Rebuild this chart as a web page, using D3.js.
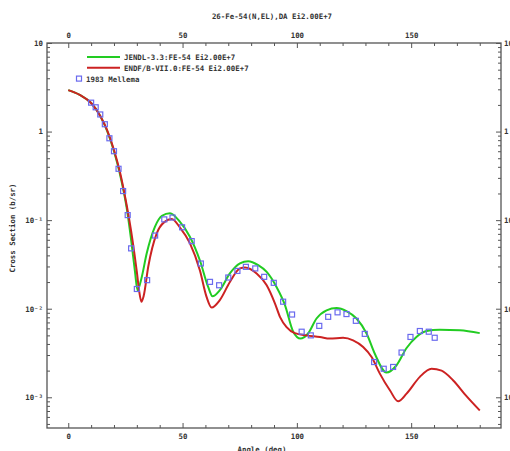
<!DOCTYPE html>
<html>
<head>
<meta charset="utf-8">
<script src="https://cdn.jsdelivr.net/npm/d3@7"></script>
<style>
  body { margin: 0; background: #fff; }
  text { font-family: "DejaVu Sans Mono", monospace; font-size: 7.4px; font-weight: bold; fill: #333; }
</style>
</head>
<body>
<div id="chart"></div>
<script>
// JENDL-3.3 curve (angle deg, b/sr)
const jendl = [[0,2.94],[5,2.6],[10,2.1],[14,1.5],[17,1.02],[20,0.6],[22.5,0.34],[25.5,0.14],[27.5,0.06],
  [29.2,0.026],[30.3,0.0162],[32,0.022],[34.3,0.042],[37.9,0.084],[41,0.112],[44.5,0.12],[48.8,0.096],
  [53.2,0.065],[57.6,0.035],[61.2,0.0176],[63.1,0.0138],[66.3,0.0162],[70.7,0.025],[75.1,0.0324],
  [78.7,0.0344],[83.1,0.031],[86.8,0.026],[91.1,0.0176],[94.8,0.011],[98.4,0.0055],[101.6,0.0046],
  [104.9,0.00525],[108.6,0.00775],[113,0.0096],[117.4,0.0102],[121.7,0.0094],[126.1,0.00775],
  [130.5,0.00525],[134.1,0.0031],[139.2,0.0019],[143.6,0.0023],[148,0.0036],[152.3,0.0048],
  [156.7,0.0056],[162.5,0.0058],[171.3,0.0057],[180,0.0053]];

// ENDF/B-VII.0 curve
const endf = [[0,2.94],[5,2.6],[10,2.1],[14,1.5],[17,1.04],[20,0.62],[22.6,0.35],[25.5,0.15],[28,0.062],
  [30,0.026],[31,0.016],[32,0.012],[33,0.014],[35,0.03],[38.7,0.071],[42,0.095],[45.3,0.103],[48.8,0.083],
  [53.2,0.055],[57.6,0.027],[60.5,0.0136],[62.7,0.0103],[66.3,0.0125],[70.7,0.02],[75.1,0.0285],
  [77.3,0.0292],[82.4,0.025],[86.8,0.0184],[90.4,0.0115],[92.6,0.0081],[95.5,0.0062],[99.1,0.0053],
  [104.2,0.005],[110.1,0.0048],[114.4,0.0046],[120.2,0.0047],[124.6,0.0044],[129,0.0037],[132.7,0.00285],
  [136.3,0.00185],[140.7,0.0012],[144.3,0.0009],[148,0.0011],[153.8,0.0017],[158.9,0.0021],[163.3,0.002],
  [168.3,0.00156],[174.2,0.00103],[180,0.00071]];

// 1983 Mellema measurements
const mellema = [[10,2.12],[12,1.88],[14,1.56],[16,1.21],[18,0.84],[20,0.60],[22,0.38],[24,0.213],[26,0.114],
  [27.5,0.048],[30,0.0167],[34.5,0.021],[38,0.067],[42,0.102],[45.6,0.107],[49.8,0.083],[54,0.058],
  [58,0.0324],[62,0.0201],[66,0.0184],[70,0.0225],[74,0.0267],[77.7,0.0297],[81.8,0.0285],[85.7,0.0229],
  [89.9,0.0196],[94,0.012],[97.9,0.0086],[102.1,0.0055],[106.1,0.005],[109.8,0.0064],[113.7,0.0081],
  [117.8,0.0091],[121.7,0.0087],[125.8,0.0073],[129.7,0.0052],[133.8,0.0025],[138,0.0021],[142.1,0.0022],
  [145.8,0.0032],[149.7,0.0048],[153.8,0.0056],[157.7,0.0055],[160.3,0.0047]];

const xMajor = [0, 50, 100, 150];
const xMinor = [10, 20, 30, 40, 60, 70, 80, 90, 110, 120, 130, 140, 160, 170, 180];
const yMajor = [10, 1, 0.1, 0.01, 0.001];
const yLabels = ['10', '1', '10\u207B\u00B9', '10\u207B\u00B2', '10\u207B\u00B3'];

const legendItems = [
  { name: 'JENDL-3.3:FE-54 Ei2.00E+7', color: '#22cc22', type: 'line' },
  { name: 'ENDF/B-VII.0:FE-54 Ei2.00E+7', color: '#cc2222', type: 'line' },
  { name: '1983 Mellema', color: '#6a6aee', type: 'point' }
];

const width = 510, height = 451;
const margin = { left: 47, right: 501, top: 43, bottom: 428 };

const svg = d3.select('#chart').append('svg')
    .attr('width', width)
    .attr('height', height);

const x = d3.scaleLinear().domain([-9.3, 189.3]).range([margin.left, margin.right]);
const y = d3.scaleLog().domain([4.5e-4, 10]).range([margin.bottom, margin.top]);

// minor log ticks
const yMinor = [];
[1e-4, 1e-3, 1e-2, 1e-1, 1].forEach(d => {
    for (let k = 2; k <= 9; k++) {
        const v = d * k;
        if (v >= 4.5e-4 && v <= 10) yMinor.push(v);
    }
});

// frame
svg.append('rect')
    .attr('x', margin.left).attr('y', margin.top)
    .attr('width', margin.right - margin.left).attr('height', margin.bottom - margin.top)
    .style('fill', 'none').style('stroke', '#555').style('stroke-width', 1.3);

function styleAxis(g) {
    g.select('.domain').remove();
    g.selectAll('line').style('stroke', '#555');
    g.selectAll('text').style('font-family', '"DejaVu Sans Mono", monospace')
        .style('font-size', '7.4px').style('font-weight', 'bold').style('fill', '#333');
}

// bottom axis
svg.append('g').attr('transform', 'translate(0,' + margin.bottom + ')')
    .call(d3.axisBottom(x).tickValues(xMajor).tickSize(-5).tickPadding(6).tickFormat(d3.format('d')))
    .call(styleAxis);
svg.append('g').attr('transform', 'translate(0,' + margin.bottom + ')')
    .call(d3.axisBottom(x).tickValues(xMinor).tickSize(-3).tickFormat(''))
    .call(styleAxis);

// top axis
svg.append('g').attr('transform', 'translate(0,' + margin.top + ')')
    .call(d3.axisTop(x).tickValues(xMajor).tickSize(-5).tickPadding(5).tickFormat(d3.format('d')))
    .call(styleAxis);
svg.append('g').attr('transform', 'translate(0,' + margin.top + ')')
    .call(d3.axisTop(x).tickValues(xMinor).tickSize(-3).tickFormat(''))
    .call(styleAxis);

// left axis
svg.append('g').attr('transform', 'translate(' + margin.left + ',0)')
    .call(d3.axisLeft(y).tickValues(yMajor).tickSize(-5).tickPadding(4)
        .tickFormat((d, i) => yLabels[i]))
    .call(styleAxis);
svg.append('g').attr('transform', 'translate(' + margin.left + ',0)')
    .call(d3.axisLeft(y).tickValues(yMinor).tickSize(-3).tickFormat(''))
    .call(styleAxis);

// right axis (labels run off the edge, as in the source image)
svg.append('g').attr('transform', 'translate(' + margin.right + ',0)')
    .call(d3.axisRight(y).tickValues(yMajor).tickSize(-5).tickPadding(3)
        .tickFormat((d, i) => yLabels[i]))
    .call(styleAxis);
svg.append('g').attr('transform', 'translate(' + margin.right + ',0)')
    .call(d3.axisRight(y).tickValues(yMinor).tickSize(-3).tickFormat(''))
    .call(styleAxis);

// titles
svg.append('text').attr('x', 272).attr('y', 19).attr('text-anchor', 'middle')
    .text('26-Fe-54(N,EL),DA Ei2.00E+7');
svg.append('text').attr('x', 262).attr('y', 452).attr('text-anchor', 'middle')
    .text('Angle (deg)');
svg.append('text').attr('transform', 'translate(15,' + 228 + ') rotate(-90)')
    .attr('text-anchor', 'middle')
    .text('Cross Section (b/sr)');

// curves
const line = d3.line()
    .x(d => x(d[0]))
    .y(d => y(d[1]))
    .curve(d3.curveMonotoneX);

const plot = svg.append('g');

plot.append('path')
    .datum(jendl)
    .attr('d', line)
    .style('fill', 'none')
    .style('stroke', legendItems[0].color)
    .style('stroke-width', 2);

plot.append('path')
    .datum(endf)
    .attr('d', line)
    .style('fill', 'none')
    .style('stroke', legendItems[1].color)
    .style('stroke-width', 2);

// data points
plot.selectAll('rect.pt')
    .data(mellema)
    .enter().append('rect')
    .attr('class', 'pt')
    .attr('x', d => x(d[0]) - 2.5)
    .attr('y', d => y(d[1]) - 2.5)
    .attr('width', 5)
    .attr('height', 5)
    .style('fill', 'none')
    .style('stroke', legendItems[2].color)
    .style('stroke-width', 1.2);

// legend
const legend = svg.append('g');
legendItems.forEach((item, i) => {
    const ly = 57 + i * 10.8;
    if (item.type === 'line') {
        legend.append('line')
            .attr('x1', 87).attr('x2', 120)
            .attr('y1', ly).attr('y2', ly)
            .style('stroke', item.color).style('stroke-width', 2);
        legend.append('text').attr('x', 124).attr('y', ly + 3).text(item.name);
    } else {
        legend.append('rect')
            .attr('x', 76.5).attr('y', ly - 2.5)
            .attr('width', 5).attr('height', 5)
            .style('fill', 'none').style('stroke', item.color).style('stroke-width', 1.2);
        legend.append('text').attr('x', 86).attr('y', ly + 3).text(item.name);
    }
});
</script>
</body>
</html>
